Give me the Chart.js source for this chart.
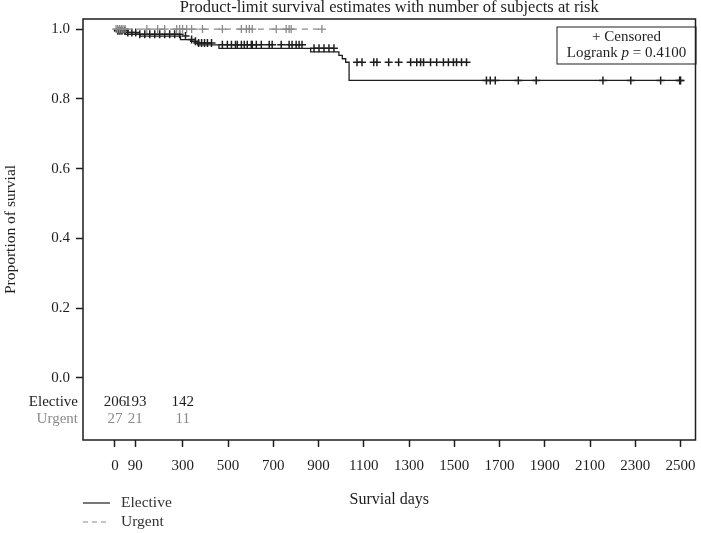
<!DOCTYPE html>
<html>
<head>
<meta charset="utf-8">
<script src="https://cdn.jsdelivr.net/npm/chart.js@4"></script>
<style>
html, body { margin: 0; padding: 0; background: #fff; }
</style>
</head>
<body>
<canvas id="myChart" width="701" height="533"></canvas>
<script>
// tick positions on the axes
const xTicks = [0, 90, 300, 500, 700, 900, 1100, 1300, 1500, 1700, 1900, 2100, 2300, 2500];
const yTicks = [0, 0.2, 0.4, 0.6, 0.8, 1.0];

// Kaplan-Meier steps (day, survival after that day)
const electiveDays = [0, 10, 45, 110, 290, 335, 350, 365, 460, 865, 990, 1005, 1020, 1035, 1620, 2500];
const electiveSurv = [1.0, 0.995, 0.990, 0.985, 0.980, 0.970, 0.965, 0.960, 0.955, 0.945, 0.935, 0.925, 0.915, 0.905, 0.853, 0.853];
const electiveCensored = [13, 22, 31, 44, 57, 75, 92, 110, 132, 154, 176, 198, 220, 242, 264, 286, 312, 339, 356, 370, 383, 396, 409, 427,
  475, 497, 515, 533, 541, 559, 572, 585, 603, 607, 625, 647, 682, 695, 735, 770, 783, 801, 814, 827,
  880, 902, 924, 946, 968,
  1070, 1092, 1144, 1158, 1210, 1254, 1307, 1334, 1351, 1364, 1395, 1422, 1452, 1474, 1496, 1510, 1532, 1554,
  1642, 1659, 1681, 1783, 1862, 2157, 2280, 2412, 2496, 2500];

const urgentDays = [0, 915];
const urgentSurv = [1.0, 1.0];
const urgentCensored = [5, 12, 20, 28, 36, 45, 141, 189, 220, 273, 286, 299, 317, 339, 387, 475, 559, 581, 594, 607, 713, 757, 770, 779, 915];

// number at risk table
const riskDays = [0, 90, 300];
const electiveAtRisk = [206, 193, 142];
const urgentAtRisk = [27, 21, 11];

const pValue = "0.4100";

const FONT = "'Liberation Serif', 'DejaVu Serif', serif";
const BLACK = '#1e1e1e';
const GREY = '#8a8a8a';

let survAt = function(days, surv, t) {
  let s = surv[0];
  for (let i = 0; i < days.length; i++) {
    if (days[i] <= t) s = surv[i];
  }
  return s;
};

let stepPoints = function(days, surv) {
  let pts = [];
  for (let i = 0; i < days.length; i++) pts.push({x: days[i], y: surv[i]});
  return pts;
};

let censorPoints = function(cdays, days, surv) {
  return cdays.map(t => ({x: t, y: survAt(days, surv, t)}));
};

const decor = {
  id: 'decor',
  afterDraw(chart) {
    const ctx = chart.ctx;
    const a = chart.chartArea;
    const xs = chart.scales.x;
    ctx.save();

    // frame
    ctx.strokeStyle = BLACK;
    ctx.lineWidth = 1.5;
    ctx.strokeRect(a.left, a.top, a.right - a.left, a.bottom - a.top);

    // title
    ctx.fillStyle = BLACK;
    ctx.font = "16.5px " + FONT;
    ctx.textAlign = 'center';
    ctx.textBaseline = 'middle';
    ctx.fillText("Product-limit survival estimates with number of subjects at risk", (a.left + a.right) / 2, 8);

    // axis titles
    ctx.font = "16px " + FONT;
    ctx.fillText("Survial days", (a.left + a.right) / 2, 500);
    ctx.save();
    ctx.translate(11, (a.top + a.bottom) / 2);
    ctx.rotate(-Math.PI / 2);
    ctx.font = "15.5px " + FONT;
    ctx.fillText("Proportion of survial", 0, 0);
    ctx.restore();

    // at risk table
    ctx.font = "15px " + FONT;
    ctx.textAlign = 'right';
    ctx.fillStyle = BLACK;
    ctx.fillText("Elective", 78, 402);
    ctx.fillStyle = GREY;
    ctx.fillText("Urgent", 78, 419);
    ctx.textAlign = 'center';
    for (let i = 0; i < riskDays.length; i++) {
      let px = xs.getPixelForValue(riskDays[i]);
      ctx.fillStyle = BLACK;
      ctx.fillText(String(electiveAtRisk[i]), px, 402);
      ctx.fillStyle = GREY;
      ctx.fillText(String(urgentAtRisk[i]), px, 419);
    }

    // censored / logrank box
    const bx = 557, by = 27, bw = 139, bh = 37;
    ctx.lineWidth = 1;
    ctx.strokeStyle = BLACK;
    ctx.strokeRect(bx, by, bw, bh);
    ctx.fillStyle = BLACK;
    ctx.textAlign = 'center';
    ctx.fillText("+ Censored", bx + bw / 2, 37);
    let p1 = "Logrank ", p2 = "p", p3 = " = " + pValue;
    ctx.font = "15px " + FONT;
    let w1 = ctx.measureText(p1).width, w3 = ctx.measureText(p3).width;
    ctx.font = "italic 15px " + FONT;
    let w2 = ctx.measureText(p2).width;
    let sx = bx + bw / 2 - (w1 + w2 + w3) / 2;
    ctx.textAlign = 'left';
    ctx.font = "15px " + FONT;
    ctx.fillText(p1, sx, 53);
    ctx.font = "italic 15px " + FONT;
    ctx.fillText(p2, sx + w1, 53);
    ctx.font = "15px " + FONT;
    ctx.fillText(p3, sx + w1 + w2, 53);

    // bottom legend
    ctx.lineWidth = 1.2;
    ctx.strokeStyle = BLACK;
    ctx.beginPath();
    ctx.moveTo(83, 503); ctx.lineTo(110, 503);
    ctx.stroke();
    ctx.strokeStyle = GREY;
    ctx.setLineDash([5, 4]);
    ctx.beginPath();
    ctx.moveTo(83, 522); ctx.lineTo(110, 522);
    ctx.stroke();
    ctx.setLineDash([]);
    ctx.fillStyle = '#333';
    ctx.font = "15.5px " + FONT;
    ctx.fillText("Elective", 121, 503);
    ctx.fillText("Urgent", 121, 522);

    ctx.restore();
  }
};

let cur_chart = new Chart(document.getElementById('myChart'), {
  type: 'scatter',
  data: {
    datasets: [
      {
        label: 'Urgent',
        data: stepPoints(urgentDays, urgentSurv),
        showLine: true,
        stepped: 'after',
        borderColor: GREY,
        borderWidth: 1.3,
        borderDash: [6, 5],
        pointRadius: 0
      },
      {
        label: 'Urgent censored',
        data: censorPoints(urgentCensored, urgentDays, urgentSurv),
        showLine: false,
        pointStyle: 'cross',
        pointRadius: 4,
        borderColor: GREY,
        borderWidth: 1.3
      },
      {
        label: 'Elective',
        data: stepPoints(electiveDays, electiveSurv),
        showLine: true,
        stepped: 'after',
        borderColor: BLACK,
        borderWidth: 1.3,
        pointRadius: 0
      },
      {
        label: 'Elective censored',
        data: censorPoints(electiveCensored, electiveDays, electiveSurv),
        showLine: false,
        pointStyle: 'cross',
        pointRadius: 4,
        borderColor: BLACK,
        borderWidth: 1.5
      }
    ]
  },
  options: {
    responsive: false,
    animation: false,
    devicePixelRatio: 1,
    layout: { padding: { top: 19, right: 1, left: 0, bottom: 0 } },
    plugins: {
      legend: { display: false },
      tooltip: { enabled: false },
      title: { display: false }
    },
    scales: {
      x: {
        type: 'linear',
        min: -141,
        max: 2566,
        afterBuildTicks: s => { s.ticks = xTicks.map(v => ({value: v})); },
        afterFit: s => { s.height = 93; s.paddingLeft = 0; s.paddingRight = 0; },
        ticks: {
          autoSkip: false,
          maxRotation: 0,
          padding: 10,
          color: BLACK,
          font: { family: FONT, size: 15 },
          callback: v => String(v)
        },
        grid: { display: true, drawOnChartArea: false, drawTicks: true, tickLength: 7, tickColor: BLACK, tickWidth: 1.5 },
        border: { display: false }
      },
      y: {
        type: 'linear',
        min: -0.178,
        max: 1.029,
        afterBuildTicks: s => { s.ticks = yTicks.map(v => ({value: v})); },
        afterFit: s => { s.width = 83; s.paddingTop = 0; s.paddingBottom = 0; },
        ticks: {
          padding: 6,
          color: BLACK,
          font: { family: FONT, size: 15 },
          callback: v => v.toFixed(1)
        },
        grid: { display: true, drawOnChartArea: false, drawTicks: true, tickLength: 7, tickColor: BLACK, tickWidth: 1.5 },
        border: { display: false }
      }
    }
  },
  plugins: [decor]
});
</script>
</body>
</html>
